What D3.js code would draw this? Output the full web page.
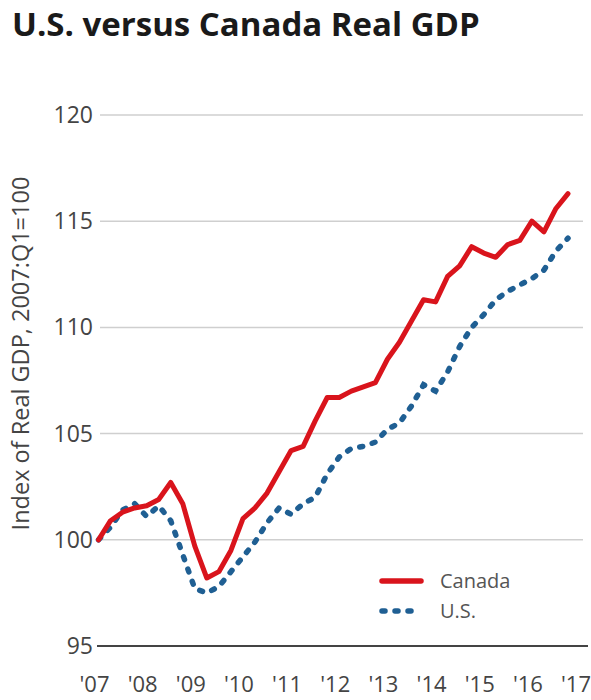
<!DOCTYPE html>
<html>
<head>
<meta charset="utf-8">
<script src="https://cdn.jsdelivr.net/npm/d3@7"></script>
<style>
  body { margin: 0; background: #fff; }
  svg { display: block; }
  text { font-family: "Open Sans", sans-serif; }
</style>
</head>
<body>
<svg id="chart" width="591" height="700"></svg>
<script>
// quarterly, 2007:Q1 .. 2016:Q4
const quarters = d3.range(40);
const canada = [100.0, 100.9, 101.3, 101.5, 101.6, 101.9, 102.7, 101.7, 99.7, 98.2,
  98.5, 99.5, 101.0, 101.5, 102.2, 103.2, 104.2, 104.4, 105.6, 106.7,
  106.7, 107.0, 107.2, 107.4, 108.5, 109.3, 110.3, 111.3, 111.2, 112.4,
  112.9, 113.8, 113.5, 113.3, 113.9, 114.1, 115.0, 114.5, 115.6, 116.3];
const us = [100.0, 100.6, 101.4, 101.7, 101.1, 101.6, 100.9, 99.3, 97.7, 97.5,
  97.8, 98.5, 99.2, 99.9, 100.8, 101.5, 101.2, 101.7, 102.0, 103.1,
  103.9, 104.3, 104.4, 104.6, 105.2, 105.5, 106.3, 107.3, 107.0, 107.9,
  109.1, 110.0, 110.6, 111.3, 111.7, 112.0, 112.3, 112.7, 113.6, 114.2];
const yTicks = [95, 100, 105, 110, 115, 120];
const yearLabels = ["'07", "'08", "'09", "'10", "'11", "'12", "'13", "'14", "'15", "'16", "'17"];
const seriesNames = ["Canada", "U.S."];

const svg = d3.select("#chart");

const x = d3.scaleLinear().domain([0, 39]).range([98.5, 568]);
const y = d3.scaleLinear().domain([95, 120]).range([646, 115]);

svg.append("text")
  .attr("x", 12)
  .attr("y", 36)
  .attr("font-family", "Roboto, sans-serif")
  .attr("font-weight", 700)
  .attr("font-size", 33)
  .attr("fill", "#1a1a1a")
  .text("U.S. versus Canada Real GDP");

// gridlines
svg.append("g")
  .selectAll("line")
  .data(yTicks.filter(d => d !== 95))
  .join("line")
  .attr("x1", 100)
  .attr("x2", 583)
  .attr("y1", d => y(d))
  .attr("y2", d => y(d))
  .attr("stroke", "#cfcfcf")
  .attr("stroke-width", 1.5);

svg.append("line")
  .attr("x1", 97)
  .attr("x2", 588)
  .attr("y1", y(95))
  .attr("y2", y(95))
  .attr("stroke", "#444")
  .attr("stroke-width", 2);

svg.append("g")
  .selectAll("text")
  .data(yTicks)
  .join("text")
  .attr("x", 93)
  .attr("y", d => y(d))
  .attr("dy", "0.35em")
  .attr("text-anchor", "end")
  .attr("font-size", 23)
  .attr("fill", "#444")
  .text(d => d);

svg.append("g")
  .selectAll("text")
  .data(yearLabels)
  .join("text")
  .attr("x", (d, i) => x(i * 4) - 4)
  .attr("y", 692)
  .attr("text-anchor", "middle")
  .attr("font-size", 22)
  .attr("fill", "#444")
  .text(d => d);

svg.append("text")
  .attr("transform", `translate(29,${(167 + 540) / 2}) rotate(-90)`)
  .attr("text-anchor", "middle")
  .attr("font-size", 23.5)
  .attr("fill", "#444")
  .text("Index of Real GDP, 2007:Q1=100");

const line = d3.line()
  .x((d, i) => x(quarters[i]))
  .y(d => y(d));

svg.append("path")
  .datum(us)
  .attr("fill", "none")
  .attr("stroke", "#1f5f93")
  .attr("stroke-width", 5.5)
  .attr("stroke-linecap", "round")
  .attr("stroke-dasharray", "3 10")
  .attr("d", line);

svg.append("path")
  .datum(canada)
  .attr("fill", "none")
  .attr("stroke", "#d9141c")
  .attr("stroke-width", 5)
  .attr("stroke-linejoin", "round")
  .attr("stroke-linecap", "round")
  .attr("d", line);

// legend
const legend = svg.append("g");
const legendStyles = [
  { stroke: "#d9141c", dash: null },
  { stroke: "#1f5f93", dash: "3 10" }
];
seriesNames.forEach((name, i) => {
  const ly = 581 + i * 30;
  legend.append("line")
    .attr("x1", 382)
    .attr("x2", 421)
    .attr("y1", ly)
    .attr("y2", ly)
    .attr("stroke", legendStyles[i].stroke)
    .attr("stroke-width", 5.5)
    .attr("stroke-linecap", "round")
    .attr("stroke-dasharray", legendStyles[i].dash);
  legend.append("text")
    .attr("x", 440)
    .attr("y", ly + 7)
    .attr("font-size", 20)
    .attr("fill", "#555")
    .text(name);
});
</script>
</body>
</html>
